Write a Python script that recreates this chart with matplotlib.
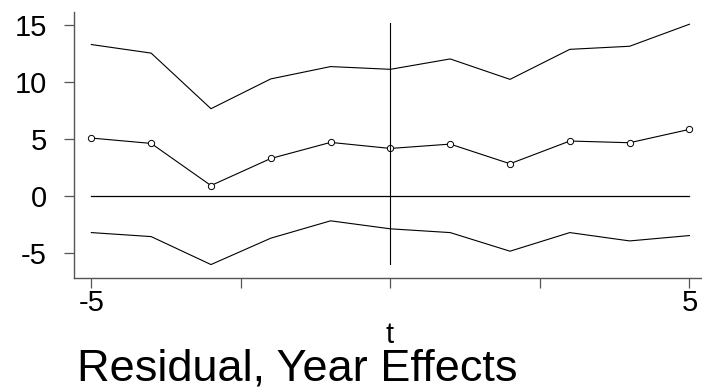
import numpy as np
import matplotlib.pyplot as plt

# valori
t = [-5, -4, -3, -2, -1, 0, 1, 2, 3, 4, 5]
upper = [13.25, 12.5, 7.63, 10.24, 11.32, 11.08, 11.99, 10.2, 12.83, 13.1, 15.03]
resid = [5.06, 4.59, 0.9, 3.27, 4.68, 4.15, 4.53, 2.81, 4.8, 4.65, 5.82]
lower = [-3.22, -3.57, -6.02, -3.71, -2.19, -2.89, -3.22, -4.85, -3.22, -3.95, -3.48]

x_ticks = [-5, -2.5, 0, 2.5, 5]
x_labels = ['-5', '', '', '', '5']
y_ticks = [-5, 0, 5, 10, 15]

plt.rcParams['font.family'] = ['Liberation Sans', 'DejaVu Sans']
plt.rcParams['axes.unicode_minus'] = False

fig = plt.figure(figsize=(7.02, 3.91), dpi=100)
ax = fig.add_axes([0.1054, 0.2898, 0.8946, 0.6795])

# benzile si reziduul
ax.plot(t, upper, color='black', linewidth=0.8)
ax.plot(t, lower, color='black', linewidth=0.8)
ax.plot(t, resid, color='black', linewidth=0.8, marker='o', markersize=4.5,
        markerfacecolor='white', markeredgewidth=0.7)

# linia de zero si linia verticala
ax.plot([t[0], t[-1]], [0, 0], color='black', linewidth=0.9)
ax.plot([0, 0], [-6, 15.1], color='black', linewidth=0.8)

ax.set_xlim(-5.29, 5.21)
ax.set_ylim(-7.17, 16.1)

ax.set_xticks(x_ticks)
ax.set_xticklabels(x_labels)
ax.set_yticks(y_ticks)

for s in ['top', 'right']:
    ax.spines[s].set_visible(False)
for s in ['left', 'bottom']:
    ax.spines[s].set_color('#555555')
    ax.spines[s].set_linewidth(1.0)

ax.tick_params(axis='both', direction='out', length=7.5, width=0.9, color='#555555',
               labelsize=21, labelcolor='black')
ax.tick_params(axis='y', pad=12)
ax.tick_params(axis='x', pad=1)

# eticheta axei x, centrata pe t = 0
fig.text(390, 391 - 343, 't', fontsize=21, ha='center', va='baseline',
         transform=None)
fig.text(77, 391 - 381, 'Residual, Year Effects', fontsize=32.5, ha='left',
         va='baseline', transform=None)

fig.savefig('out.png', dpi=100)
